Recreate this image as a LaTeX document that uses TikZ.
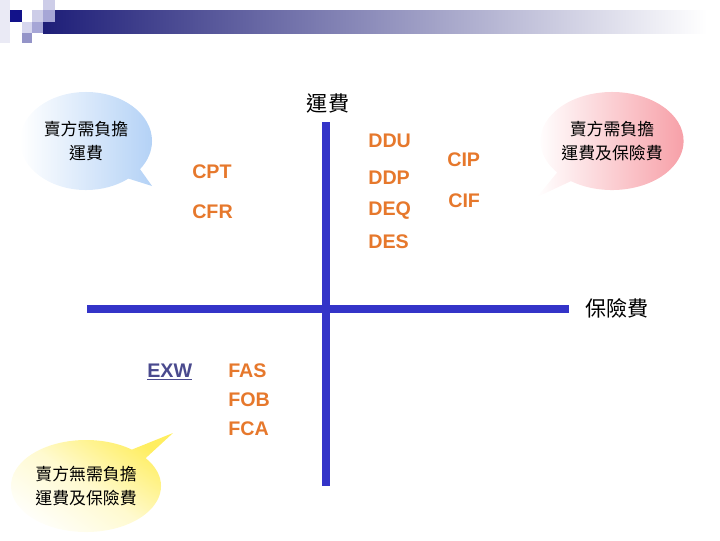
\documentclass[tikz,border=0pt]{standalone}
\usepackage{fontspec}
\setmainfont{Liberation Sans}
\newfontfamily\cjk{Noto Sans CJK TC}
\usepackage{tikz}
\usetikzlibrary{shapes.geometric,shapes.callouts}
\usepackage{xcolor}
\definecolor{hdNavy}{HTML}{12128A}
\definecolor{hdBar}{HTML}{1E1E78}
\definecolor{hdLight}{HTML}{CDCDE8}
\definecolor{hdPale}{HTML}{D6D6EE}
\definecolor{hdMid}{HTML}{A6A6D6}
\definecolor{hdPurple}{HTML}{9494C8}
\definecolor{hdFaint}{HTML}{EAEAF5}
\definecolor{axBlue}{HTML}{3434C8}
\definecolor{trOrange}{HTML}{E6782C}
\definecolor{trBlue}{HTML}{4A4A8E}
\definecolor{bbBlue}{HTML}{B4D2F6}
\definecolor{bbPink}{HTML}{F7A0A8}
\definecolor{bbYellow}{HTML}{FFEE60}
\tikzset{
  axis/.style={line width=0.1875cm, draw=axBlue},
  term/.style={inner sep=0pt, anchor=base west, text=trOrange, font=\fontsize{14}{16}\selectfont\bfseries},
  termb/.style={term, text=trBlue},
  axlabel/.style={inner sep=0pt, font=\cjk\fontsize{15}{18}\selectfont},
  bubble/.style={ellipse callout, draw=none, inner sep=0pt, align=center, font=\cjk\fontsize{12}{16.5}\selectfont},
  hdsq/.style={draw=none}
}
\begin{document}
\begin{tikzpicture}[x=0.025cm,y=-0.025cm]
  \useasboundingbox (0,0) rectangle (720,540);
  \fill[left color=hdBar, right color=white] (43,10) rectangle (707,33);
  \fill[hdFaint] (0,0) rectangle (10,43);
  \fill[hdNavy] (10,10) rectangle (22,22);
  \fill[hdLight] (32,10) rectangle (43,22);
  \fill[hdLight] (43,0) rectangle (55,10);
  \fill[hdMid] (43,10) rectangle (55,22);
  \fill[hdPale] (22,22) rectangle (32,33);
  \fill[hdMid] (32,22) rectangle (43,33);
  \fill[hdPurple] (22,33) rectangle (32,43);
  \node[bubble, minimum width=3.3cm, minimum height=2.45cm, left color=white, right color=bbBlue, callout absolute pointer={(152,186)}] (bbseller) at (86,141) {賣方需負擔\\運費};
  \node[bubble, minimum width=3.4cm, minimum height=2.45cm, left color=white, right color=bbPink, callout absolute pointer={(537,197)}] (bbboth) at (612,141) {賣方需負擔\\運費及保險費};
  \node[bubble, minimum width=3.75cm, minimum height=2.3cm, bottom color=white, top color=bbYellow, middle color=bbYellow!30, shading angle=-35, callout absolute pointer={(173,433)}] (bbnone) at (86,486) {賣方無需負擔\\運費及保險費};
  \coordinate (ytop) at (326,122);
  \coordinate (ybot) at (326,486);
  \coordinate (xleft) at (87,309);
  \coordinate (xright) at (569,309);
  \draw[axis] (xleft) -- (xright);
  \draw[axis] (ytop) -- (ybot);
  \node[axlabel] (lbfreight) at (328,103) {運費};
  \node[axlabel] (lbinsure) at (617,308) {保險費};
  \node[term] (ddu) at (368,147) {DDU};
  \node[term] (ddp) at (368,184) {DDP};
  \node[term] (deq) at (368,215) {DEQ};
  \node[term] (des) at (368,248) {DES};
  \node[term] (cip) at (447,166) {CIP};
  \node[term] (cif) at (448,207) {CIF};
  \node[term] (cpt) at (192,178) {CPT};
  \node[term] (cfr) at (192,218) {CFR};
  \node[termb] (exw) at (147,377) {\underline{EXW}};
  \node[term] (fas) at (228,377) {FAS};
  \node[term] (fob) at (228,406) {FOB};
  \node[term] (fca) at (228,435) {FCA};
\end{tikzpicture}
\end{document}
